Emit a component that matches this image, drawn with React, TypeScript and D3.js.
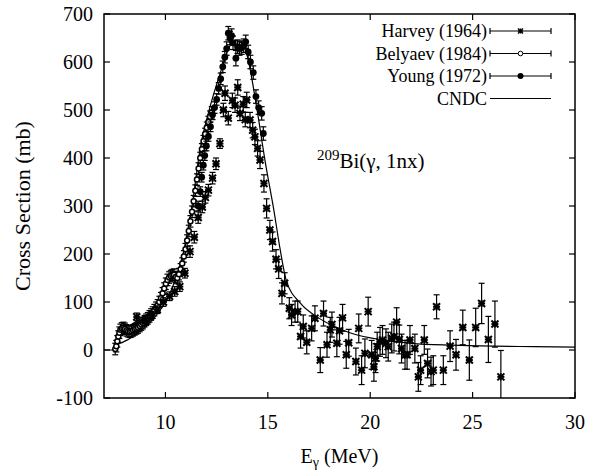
import React from 'react';
import * as d3 from 'd3';

const W = 595;
const H = 473;
const FONT = 'Liberation Serif';

const xTicks = [10, 15, 20, 25, 30];
const yTicks = [-100, 0, 100, 200, 300, 400, 500, 600, 700];

const legendLabels = ['Harvey (1964)', 'Belyaev (1984)', 'Young (1972)', 'CNDC'];

// Harvey (1964): energy (MeV), cross section (mb), error (mb)
const harveyE = [8.6, 9.0, 9.3, 9.6, 9.9, 10.2, 10.45, 10.7, 10.95, 11.2, 11.41, 11.6, 11.8, 11.95, 12.1, 12.3, 12.47, 12.66,
  12.83, 12.91, 13.07, 13.27, 13.4, 13.53, 13.64, 13.8, 13.9, 13.97, 14.13, 14.26, 14.37, 14.5, 14.62, 14.81, 14.94,
  15.1, 15.23, 15.4, 15.53, 15.69, 15.82, 16.05, 16.16, 16.33, 16.46, 16.6, 16.73, 16.9, 17.14, 17.3, 17.56, 17.72,
  17.89, 18.05, 18.13, 18.37, 18.5, 18.65, 18.83, 18.95, 19.3, 19.44, 19.58, 19.74, 19.9, 20.07, 20.18, 20.26, 20.34,
  20.48, 20.6, 20.77, 20.88, 21.05, 21.16, 21.29, 21.42, 21.53, 21.7, 21.8, 21.94, 22.18, 22.35, 22.46, 22.64, 22.8,
  22.97, 23.08, 23.24, 23.57, 23.9, 24.19, 24.52, 24.84, 25.15, 25.44, 25.77, 26.09, 26.38];
const harveyS = [69, 62, 72, 84, 100, 112, 122, 132, 160, 205, 235, 276, 298, 318, 333, 358, 388, 430,
  500, 535, 483, 520, 510, 547, 493, 512, 480, 521, 479, 458, 444, 420, 396, 347, 295,
  250, 226, 189, 169, 118, 139, 87, 73, 80, 80, 28, 49, 16, 45, 66, -21, 76,
  11, 42, 53, 14, 40, 67, -10, 15, -24, 45, -42, -7, 80, -10, -35, -17, 7,
  17, 21, 14, 7, 24, 28, 58, 22, 3, -10, -10, 21, 3, -56, -42, 21, -28,
  -45, -42, 90, -42, 8, -10, 47, -21, 47, 97, 22, 54, -56];
const harveyErr = [8, 8, 8, 8, 9, 9, 10, 10, 10, 12, 12, 12, 12, 12, 12, 12, 12, 10,
  14, 15, 14, 15, 15, 16, 15, 16, 15, 16, 16, 16, 16, 16, 18, 18, 20,
  20, 20, 20, 20, 22, 22, 22, 22, 22, 22, 24, 24, 24, 26, 26, 26, 26,
  26, 26, 26, 28, 28, 28, 28, 28, 28, 30, 30, 30, 30, 30, 30, 30, 30,
  30, 30, 30, 30, 30, 30, 30, 30, 30, 30, 30, 30, 30, 30, 30, 30, 30,
  30, 30, 25, 30, 32, 32, 36, 42, 40, 42, 48, 48, 55];

// Belyaev (1984)
const belyaevE = [7.55, 7.6, 7.65, 7.7, 7.75, 7.8, 7.87, 7.95, 8.02, 8.1, 8.18, 8.26, 8.34, 8.42, 8.5, 8.58, 8.66, 8.74,
  8.82, 8.9, 8.98, 9.06, 9.14, 9.22, 9.3, 9.38, 9.46, 9.54, 9.62, 9.7, 9.78, 9.86, 9.94, 10.02, 10.1, 10.18, 10.26,
  10.34, 10.42, 10.5, 10.58, 10.66, 10.74, 10.82, 10.9, 10.98, 11.06, 11.14, 11.22, 11.3, 11.38, 11.46, 11.54, 11.62,
  11.7, 11.78, 11.86, 11.94, 12.02, 12.1, 12.18, 12.26];
const belyaevS = [2, 8, 18, 28, 36, 42, 45, 46, 44, 41, 39, 38, 39, 41, 43, 45, 47, 50,
  53, 56, 60, 63, 66, 70, 74, 78, 83, 88, 93, 100, 108, 118, 128, 138, 146, 151, 154,
  156, 157, 152, 150, 158, 168, 180, 195, 210, 228, 248, 268, 288, 310, 332, 355, 378,
  400, 418, 435, 450, 463, 475, 486, 495];

// Young (1972)
const youngE = [11.6, 11.7, 11.77, 11.85, 11.92, 12.0, 12.1, 12.2, 12.3, 12.4, 12.5, 12.6, 12.7, 12.8, 12.9, 12.99,
  13.07, 13.15, 13.23, 13.3, 13.44, 13.52, 13.62, 13.72, 13.82, 13.92, 14.04, 14.15, 14.29, 14.42, 14.55, 14.7, 14.78];
const youngS = [300, 330, 360, 385, 405, 425, 445, 465, 490, 505, 522, 545, 565, 590, 610, 628,
  660, 650, 655, 640, 608, 632, 628, 630, 634, 642, 621, 600, 578, 528, 505, 493, 451];
const youngErr = [10, 10, 10, 10, 10, 10, 10, 10, 10, 12, 12, 12, 12, 12, 12, 14,
  14, 14, 14, 14, 16, 14, 14, 14, 14, 14, 14, 14, 14, 14, 14, 14, 14];

// CNDC evaluation curve
const cndcE = [7.0, 7.45, 7.55, 7.8, 8.1, 8.4, 8.8, 9.2, 9.6, 10.0, 10.5, 10.9, 11.3, 11.7, 12.2, 12.7, 13.1, 13.4,
  13.7, 14.0, 14.4, 14.9, 15.3, 15.6, 15.9, 16.6, 17.4, 18.2, 19.0, 20.6, 22.0, 24.0, 26.0, 28.0, 30.0];
const cndcS = [0, 0, 9, 14, 20, 28, 40, 55, 75, 100, 148, 208, 300, 420, 510, 580, 630, 645,
  640, 612, 520, 385, 290, 210, 145, 97, 69, 50, 36, 21, 14, 10, 8, 7, 6];

const L = 104, R = 575, T = 14, B = 398;

export default function App() {
  const x = d3.scaleLinear().domain([7, 30]).range([L, R]);
  const y = d3.scaleLinear().domain([-100, 700]).range([B, T]);

  const cndcPts: [number, number][] = cndcE.map((e, i) => [e, cndcS[i]]);
  const line = d3.line<[number, number]>().x(d => x(d[0])).y(d => y(d[1])).curve(d3.curveMonotoneX);

  const cap = 3;
  const errBar = (px: number, y1: number, y2: number, key: string, sw = 1) => (
    <g key={key} stroke="#000" strokeWidth={sw}>
      <line x1={px} x2={px} y1={y1} y2={y2} />
      <line x1={px - cap} x2={px + cap} y1={y1} y2={y1} />
      <line x1={px - cap} x2={px + cap} y1={y2} y2={y2} />
    </g>
  );
  const star = (cx: number, cy: number, key: string, s = 3.5, sw = 2) => (
    <g key={key} stroke="#000" strokeWidth={sw}>
      <line x1={cx - s} x2={cx + s} y1={cy} y2={cy} />
      <line x1={cx} x2={cx} y1={cy - s} y2={cy + s} />
      <line x1={cx - s} x2={cx + s} y1={cy - s} y2={cy + s} />
      <line x1={cx - s} x2={cx + s} y1={cy + s} y2={cy - s} />
    </g>
  );

  const legY = [31, 53.5, 76, 98.5];
  const legX0 = 490, legX1 = 551, legTextX = 487;
  const tf = { fontFamily: FONT };

  return (
    <svg width={W} height={H} style={{ position: 'absolute', left: 0, top: 0, background: '#fff' }}>
      <defs>
        <clipPath id="plotClip">
          <rect x={L} y={T} width={R - L} height={B - T} />
        </clipPath>
      </defs>
      <rect x={0} y={0} width={W} height={H} fill="#fff" />

      <g clipPath="url(#plotClip)">
        <path d={line(cndcPts) || ''} fill="none" stroke="#000" strokeWidth={1.2} />
        {belyaevE.map((e, i) => errBar(x(e), y(belyaevS[i] + 12), y(belyaevS[i] - 12), 'be' + i, 1.2))}
        {belyaevE.map((e, i) => (
          <circle key={'bc' + i} cx={x(e)} cy={y(belyaevS[i])} r={2.5} fill="#fff" stroke="#000" strokeWidth={1.5} />
        ))}
        {youngE.map((e, i) => errBar(x(e), y(youngS[i] + youngErr[i]), y(youngS[i] - youngErr[i]), 'ye' + i, 1.2))}
        {youngE.map((e, i) => (
          <circle key={'yc' + i} cx={x(e)} cy={y(youngS[i])} r={3.4} fill="#000" />
        ))}
        {harveyE.map((e, i) => errBar(x(e), y(harveyS[i] + harveyErr[i]), y(harveyS[i] - harveyErr[i]), 'he' + i, 1.2))}
        {harveyE.map((e, i) => star(x(e), y(harveyS[i]), 'hs' + i))}
      </g>

      <rect x={L} y={T} width={R - L} height={B - T} fill="none" stroke="#000" strokeWidth={1.5} />

      {yTicks.map(t => (
        <g key={'yt' + t}>
          <line x1={L} x2={L + 6} y1={y(t)} y2={y(t)} stroke="#000" strokeWidth={1.2} />
          <line x1={R} x2={R - 6} y1={y(t)} y2={y(t)} stroke="#000" strokeWidth={1.2} />
          <text x={L - 11} y={y(t)} dy="0.35em" textAnchor="end" fontSize={20} style={tf}>{t}</text>
        </g>
      ))}
      {xTicks.map(t => (
        <g key={'xt' + t}>
          <line x1={x(t)} x2={x(t)} y1={B} y2={B - 6} stroke="#000" strokeWidth={1.2} />
          <line x1={x(t)} x2={x(t)} y1={T} y2={T + 6} stroke="#000" strokeWidth={1.2} />
          <text x={x(t)} y={B + 24} dy="0.35em" textAnchor="middle" fontSize={20} style={tf}>{t}</text>
        </g>
      ))}

      <text x={(L + R) / 2} y={463} textAnchor="middle" fontSize={20} style={tf}>
        E<tspan fontSize={14} dy={4}>γ</tspan><tspan dy={-4}> (MeV)</tspan>
      </text>
      <text transform={`translate(30, ${(T + B) / 2}) rotate(-90)`} textAnchor="middle" fontSize={22} style={tf}>
        Cross Section (mb)
      </text>

      <text x={317} y={168} fontSize={21} style={tf}>
        <tspan fontSize={15} dy={-8}>209</tspan><tspan dy={8}>Bi(γ, 1nx)</tspan>
      </text>

      {legendLabels.map((lab, i) => (
        <g key={'lg' + i}>
          <text x={legTextX} y={legY[i]} dy="0.35em" textAnchor="end" fontSize={18} style={tf}>{lab}</text>
          <line x1={legX0} x2={legX1} y1={legY[i]} y2={legY[i]} stroke="#000" strokeWidth={1.2} />
          {i < 3 && (
            <g stroke="#000" strokeWidth={1.2}>
              <line x1={legX0} x2={legX0} y1={legY[i] - 3} y2={legY[i] + 3} />
              <line x1={legX1} x2={legX1} y1={legY[i] - 3} y2={legY[i] + 3} />
            </g>
          )}
          {i === 0 && star((legX0 + legX1) / 2, legY[i], 'ls', 2.5, 1.5)}
          {i === 1 && <circle cx={(legX0 + legX1) / 2} cy={legY[i]} r={2.3} fill="#fff" stroke="#000" strokeWidth={1} />}
          {i === 2 && <circle cx={(legX0 + legX1) / 2} cy={legY[i]} r={3} fill="#000" />}
        </g>
      ))}
    </svg>
  );
}
